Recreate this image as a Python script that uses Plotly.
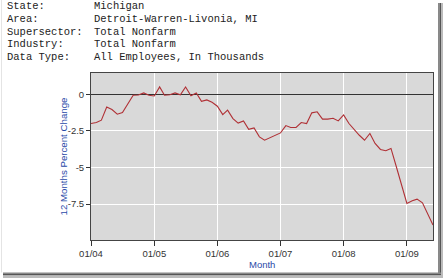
import plotly.graph_objects as go
import pandas as pd

months = pd.date_range("2004-01-01", periods=66, freq="MS")
pct_change = [
    -2.0, -1.93, -1.77, -0.87, -1.04, -1.36, -1.25, -0.64, -0.07, -0.05, 0.09, -0.07,
    -0.12, 0.5, -0.07, -0.03, 0.09, -0.04, 0.5, -0.1, 0.09, -0.48, -0.39, -0.55,
    -0.82, -1.39, -1.09, -1.66, -1.97, -1.82, -2.4, -2.3, -2.91, -3.14, -2.98, -2.84,
    -2.64, -2.14, -2.27, -2.27, -1.93, -2.0, -1.27, -1.2, -1.7, -1.7, -1.64, -1.82,
    -1.41, -2.0, -2.41, -2.8, -3.14, -2.68, -3.36, -3.77, -3.86, -3.7, -4.95, -6.2,
    -7.45, -7.27, -7.16, -7.41, -8.13, -8.93,
]
y_ticks = [0, -2.5, -5, -7.5]
y_tick_labels = ["0", "-2.5", "-5", "-7.5"]
header_labels = ["State:", "Area:", "Supersector:", "Industry:", "Data Type:"]
header_values = ["Michigan", "Detroit-Warren-Livonia, MI", "Total Nonfarm",
                 "Total Nonfarm", "All Employees, In Thousands"]

W, H = 443, 278
L, R, T, B = 91, 433, 73, 240

def px(x):
    return (x - L) / (R - L)

def py(y):
    return (B - y) / (B - T)

fig = go.Figure()
fig.add_trace(go.Scatter(x=months, y=pct_change, mode="lines",
                         line=dict(color="#b03035", width=1.1), hoverinfo="skip"))

ann = []
line_y = [6, 18.8, 31.6, 44.4, 57.2]
for lab, val, yy in zip(header_labels, header_values, line_y):
    ann.append(dict(x=px(5), y=py(yy), xref="paper", yref="paper", text=lab,
                    showarrow=False, xanchor="left", yanchor="middle",
                    font=dict(family="Liberation Mono", size=10.5, color="#222")))
    ann.append(dict(x=px(92), y=py(yy), xref="paper", yref="paper", text=val,
                    showarrow=False, xanchor="left", yanchor="middle",
                    font=dict(family="Liberation Mono", size=10.5, color="#222")))
ann.append(dict(x=px(63), y=0.5, xref="paper", yref="paper", text="12 Months Percent Change",
                showarrow=False, textangle=-90, xanchor="center", yanchor="middle",
                font=dict(family="Liberation Sans", size=9.7, color="#2a4aa8")))
ann.append(dict(x=0.5, y=py(264), xref="paper", yref="paper", text="Month",
                showarrow=False, xanchor="center", yanchor="middle",
                font=dict(family="Liberation Sans", size=9.5, color="#2a4aa8")))

shapes = [
    # right shadow
    dict(type="rect", xref="paper", yref="paper", x0=px(438), x1=px(439.5), y0=py(3), y1=py(275),
         fillcolor="#888", line_width=0, layer="above"),
    dict(type="rect", xref="paper", yref="paper", x0=px(439.5), x1=px(441), y0=py(3), y1=py(275),
         fillcolor="#555", line_width=0, layer="above"),
    dict(type="rect", xref="paper", yref="paper", x0=px(441), x1=px(443), y0=py(3), y1=py(276),
         fillcolor="#bbb", line_width=0, layer="above"),
    # bottom shadow
    dict(type="rect", xref="paper", yref="paper", x0=px(3), x1=px(441), y0=py(272.5), y1=py(274),
         fillcolor="#888", line_width=0, layer="above"),
    dict(type="rect", xref="paper", yref="paper", x0=px(3), x1=px(441), y0=py(274), y1=py(275.5),
         fillcolor="#555", line_width=0, layer="above"),
    dict(type="rect", xref="paper", yref="paper", x0=px(3), x1=px(443), y0=py(275.5), y1=py(278),
         fillcolor="#bbb", line_width=0, layer="above"),
    # faint left border
    dict(type="line", xref="paper", yref="paper", x0=px(1.5), x1=px(1.5), y0=py(0), y1=py(272.5),
         line=dict(color="#e4e4e4", width=1), layer="above"),
]

fig.update_layout(
    width=W, height=H,
    margin=dict(l=L, r=W - R, t=T, b=H - B, pad=0),
    paper_bgcolor="white", plot_bgcolor="#d9d9d9",
    showlegend=False,
    annotations=ann, shapes=shapes,
    xaxis=dict(
        range=[months[0], months[-1]], tickformat="%m/%y", dtick="M12",
        tick0="2004-01-01", ticks="outside", ticklen=5, tickcolor="#333",
        showgrid=True, gridcolor="white", gridwidth=1.2,
        showline=True, linecolor="#444", linewidth=1, mirror=True,
        tickfont=dict(family="Liberation Sans", size=9.5, color="#333"),
        zeroline=False, fixedrange=True,
    ),
    yaxis=dict(
        range=[-9.95, 1.45], tickvals=y_ticks, ticktext=y_tick_labels,
        ticks="outside", ticklen=4, tickcolor="#333",
        showgrid=True, gridcolor="white", gridwidth=1.2,
        zeroline=True, zerolinecolor="#333", zerolinewidth=1,
        showline=True, linecolor="#444", linewidth=1, mirror=True,
        tickfont=dict(family="Liberation Sans", size=9.5, color="#333"),
        fixedrange=True,
    ),
)

fig.write_html("out.html", config={"displayModeBar": False})
